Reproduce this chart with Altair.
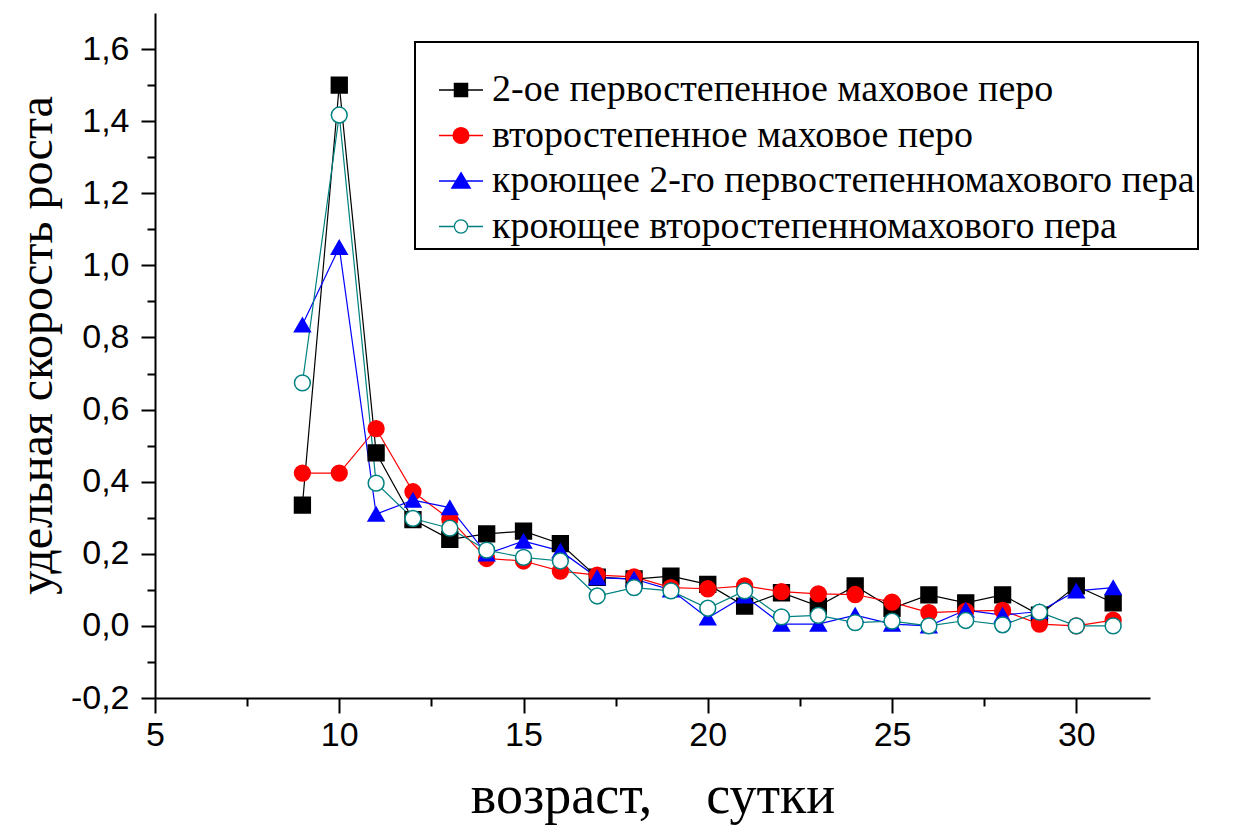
import altair as alt
import pandas as pd

age = [9, 10, 11, 12, 13, 14, 15, 16, 17, 18, 19, 20, 21, 22, 23, 24, 25, 26, 27, 28, 29, 30, 31]

primary2 = [0.335, 1.50, 0.48, 0.295, 0.24, 0.255, 0.263, 0.228, 0.135, 0.13, 0.138, 0.115, 0.055,
            0.092, 0.055, 0.111, 0.049, 0.086, 0.064, 0.086, 0.03, 0.111, 0.064]
secondary = [0.424, 0.424, 0.547, 0.372, 0.296, 0.187, 0.18, 0.152, 0.141, 0.136, 0.106, 0.103, 0.111,
             0.095, 0.089, 0.087, 0.066, 0.037, 0.041, 0.043, 0.005, 0.0, 0.016]
cov_primary2 = [0.835, 1.05, 0.31, 0.349, 0.328, 0.20, 0.235, 0.208, 0.134, 0.13, 0.10, 0.022, 0.083,
                0.005, 0.005, 0.03, 0.005, 0.0, 0.044, 0.03, 0.04, 0.097, 0.106]
cov_secondary = [0.674, 1.417, 0.396, 0.298, 0.271, 0.21, 0.19, 0.18, 0.083, 0.106, 0.097, 0.049, 0.097,
                 0.025, 0.029, 0.009, 0.013, 0.0, 0.015, 0.003, 0.038, 0.0, 0.0]

names = [
    "2-ое первостепенное маховое перо",
    "второстепенное маховое перо",
    "кроющее 2-го первостепенномахового пера",
    "кроющее второстепенномахового пера",
]
colors = ["#000000", "#ff0000", "#0000ff", "#008080"]
fills = ["#000000", "#ff0000", "#0000ff", "#ffffff"]
shapes = ["square", "circle", "triangle-up", "circle"]
legend_paths = [
    "M-1,0H1M-0.3,-0.3H0.3V0.3H-0.3Z",
    "M-1,0H1M0.36,0A0.36,0.36,0,1,1,-0.36,0A0.36,0.36,0,1,1,0.36,0Z",
    "M-1,0H1M0,-0.38L0.42,0.32H-0.42Z",
    "M-1,0H-0.3M0.3,0H1M0.3,0A0.3,0.3,0,1,1,-0.3,0A0.3,0.3,0,1,1,0.3,0Z",
]

x_major = [5, 10, 15, 20, 25, 30]
x_minor = [7.5, 12.5, 17.5, 22.5, 27.5]
y_major = [-0.2, 0.0, 0.2, 0.4, 0.6, 0.8, 1.0, 1.2, 1.4, 1.6]
y_minor = [-0.1, 0.1, 0.3, 0.5, 0.7, 0.9, 1.1, 1.3, 1.5]

rows = []
for name, vals in zip(names, [primary2, secondary, cov_primary2, cov_secondary]):
    for a, v in zip(age, vals):
        rows.append({"age": a, "value": v, "series": name})
df = pd.DataFrame(rows)

x_scale = alt.Scale(domain=[5, 32], nice=False, zero=False)
y_scale = alt.Scale(domain=[-0.2, 1.7], nice=False, zero=False)

x_axis_major = alt.Axis(
    values=x_major, orient="bottom", title="возраст,\u00a0\u00a0\u00a0\u00a0сутки",
    titleFont="Liberation Serif", titleFontSize=54, titlePadding=17, tickSize=15, labelPadding=5,
    labelFlush=False, labelOverlap=False, grid=False,
)
y_axis_major = alt.Axis(
    values=y_major, orient="left", title="удельная скорость роста",
    titleFont="Liberation Serif", titleFontSize=48, titlePadding=9, titleY=332,
    tickSize=14, labelPadding=12, labelOverlap=False, grid=False,
    labelExpr="replace(replace(format(datum.value, '.1f'), '.', ','), '−', '-')",
)
x_axis_minor = alt.Axis(values=x_minor, orient="bottom", labels=False, domain=False,
                        tickSize=8, title=None, grid=False)
y_axis_minor = alt.Axis(values=y_minor, orient="left", labels=False, domain=False,
                        tickSize=8, title=None, grid=False)

lines = alt.Chart(df).mark_line(strokeWidth=1.2).encode(
    x=alt.X("age:Q", scale=x_scale, axis=x_axis_major),
    y=alt.Y("value:Q", scale=y_scale, axis=y_axis_major),
    stroke=alt.Stroke("series:N", scale=alt.Scale(domain=names, range=colors), legend=None),
)

points = alt.Chart(df).mark_point(size=250, opacity=1, strokeWidth=1.5).encode(
    x=alt.X("age:Q", scale=x_scale, axis=x_axis_minor),
    y=alt.Y("value:Q", scale=y_scale, axis=y_axis_minor),
    shape=alt.Shape("series:N", scale=alt.Scale(domain=names, range=shapes), legend=None),
    fill=alt.Fill("series:N", scale=alt.Scale(domain=names, range=fills), legend=None),
    stroke=alt.Stroke("series:N", scale=alt.Scale(domain=names, range=colors), legend=None),
)

# blank (non-breaking space) title only widens the legend box to the reference frame
leg = alt.Legend(
    title="\u00a0" * 146, orient="none", legendX=260, legendY=29,
    strokeColor="black", fillColor="white", padding=3,
    symbolSize=1936, symbolStrokeWidth=1.3, symbolOffset=20,
    symbolFillColor="white", symbolStrokeColor="black", symbolOpacity=1,
    labelFont="Liberation Serif", labelFontSize=38, labelColor="black",
    labelLimit=1200, labelOffset=8, rowPadding=3.5,
    titleFont="Liberation Serif", titleFontSize=22, titlePadding=0, titleLimit=2000,
)

legend_layer = alt.Chart(df).transform_filter("false").mark_point(
    size=1936, opacity=1, strokeWidth=1.3
).encode(
    x=alt.X("age:Q", scale=x_scale, axis=None),
    y=alt.Y("value:Q", scale=y_scale, axis=None),
    shape=alt.Shape("series:N", scale=alt.Scale(domain=names, range=legend_paths), legend=leg),
    fill=alt.Fill("series:N", scale=alt.Scale(domain=names, range=fills), legend=leg),
    stroke=alt.Stroke("series:N", scale=alt.Scale(domain=names, range=colors), legend=leg),
)

chart = (
    alt.layer(lines, points, legend_layer)
    .resolve_scale(shape="independent", fill="independent", stroke="independent")
    .resolve_axis(x="independent", y="independent")
    .properties(width=995, height=685, padding={"left": 5, "top": 5, "right": 0, "bottom": 5})
    .configure_view(stroke=None)
    .configure_legend(strokeWidth=2)
    .configure_axis(
        domainColor="black", domainWidth=2, tickColor="black", tickWidth=2,
        labelColor="black", labelFont="Liberation Sans", labelFontSize=34,
        titleFont="Liberation Serif", titleFontWeight="normal", titleColor="black",
    )
)

chart.save("out.html", embed_options={"renderer": "svg", "actions": False})
